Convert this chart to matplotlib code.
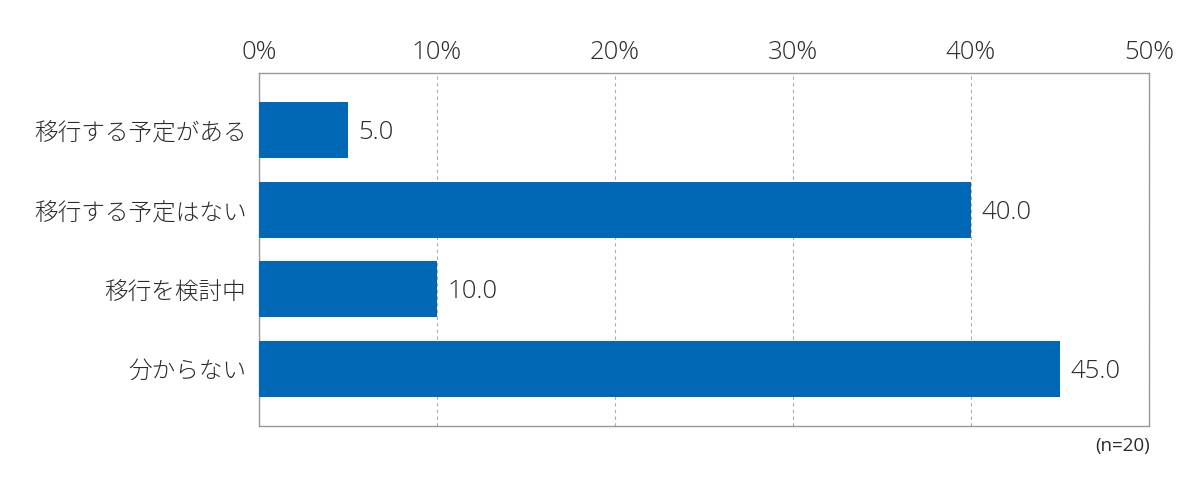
import matplotlib
matplotlib.use('Agg')
import matplotlib.pyplot as plt
from matplotlib.ticker import FuncFormatter

plt.rcParams['font.family'] = ['Noto Sans CJK JP', 'DejaVu Sans']

categories = ['移行する予定がある', '移行する予定はない', '移行を検討中', '分からない']
values = [5.0, 40.0, 10.0, 45.0]
x_ticks = [0, 10, 20, 30, 40, 50]
note = '(n=20)'

BAR_COLOR = '#0068b7'
TEXT_COLOR = '#2b2b2b'
NUM_FONT = ['Open Sans', 'DejaVu Sans']

fig = plt.figure(figsize=(12, 4.98), dpi=100)
ax = fig.add_axes([0.2158, 0.1446, 0.7417, 0.7088])

y = list(range(len(categories)))
ax.barh(y, values, height=0.706, color=BAR_COLOR, zorder=3)

for yi, v in zip(y, values):
    ax.text(v + 0.6, yi + 0.03, f'{v:.1f}', va='center', ha='left',
            fontsize=18.5, color=TEXT_COLOR, family=NUM_FONT, fontweight='light')

ax.set_xlim(0, 50)
ax.set_ylim(len(categories) - 1 + 0.72, -0.72)
ax.set_yticks(y)
ax.set_yticklabels(categories, fontweight='light')
ax.set_xticks(x_ticks)
ax.xaxis.set_major_formatter(FuncFormatter(lambda v, p: f'{int(v)}%'))
ax.xaxis.tick_top()
ax.tick_params(axis='x', length=0, pad=6, labelsize=18.5, colors=TEXT_COLOR)
for lbl in ax.get_xticklabels():
    lbl.set_family(NUM_FONT)
    lbl.set_fontweight('light')
ax.tick_params(axis='y', length=0, pad=9, labelsize=17, colors=TEXT_COLOR)

ax.grid(axis='x', linestyle=(0, (3, 3)), color='#aaaaaa', linewidth=0.8, zorder=0)
for s in ax.spines.values():
    s.set_color('#999999')
    s.set_linewidth(1.0)

fig.text(0.958, 0.105, note, ha='right', va='center', fontsize=13.5,
         color=TEXT_COLOR, family=NUM_FONT)

fig.savefig('out.png', dpi=100)
